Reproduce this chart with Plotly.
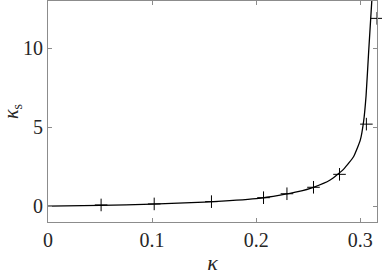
import plotly.graph_objects as go

# solid curve
curve_k = [0, 0.05, 0.1, 0.15, 0.2, 0.223, 0.24, 0.255, 0.271, 0.284, 0.2936,
           0.300, 0.3032, 0.3055, 0.308, 0.311]
curve_ks = [0, 0.05, 0.13, 0.26, 0.48, 0.7, 0.92, 1.2, 1.66, 2.35, 3.15,
            4.2, 5.4, 7.0, 9.8, 13.0]

# "+" markers
pts_k = [0.051, 0.102, 0.157, 0.207, 0.2295, 0.255, 0.280, 0.3058, 0.316]
pts_ks = [0.08, 0.145, 0.29, 0.54, 0.79, 1.2, 2.02, 5.2, 11.9]

x_ticks = [0, 0.1, 0.2, 0.3]
y_ticks = [0, 5, 10]

fig = go.Figure()
fig.add_trace(go.Scatter(x=curve_k, y=curve_ks, mode='lines',
                         line=dict(color='black', width=1.3, shape='spline', smoothing=0.5),
                         showlegend=False))
fig.add_trace(go.Scatter(x=pts_k, y=pts_ks, mode='markers',
                         marker=dict(symbol='cross-thin', size=9,
                                     line=dict(color='black', width=1)),
                         showlegend=False, cliponaxis=False))

font = dict(family='Liberation Serif', size=20, color='#262626')
axis = dict(showline=True, linecolor='#8c8c8c', linewidth=1, mirror='allticks',
            ticks='inside', ticklen=4, tickcolor='#8c8c8c', showgrid=False,
            zeroline=False, tickfont=font, automargin=False)

fig.update_layout(
    width=382, height=275,
    margin=dict(l=48, r=5, t=1, b=53),
    paper_bgcolor='white', plot_bgcolor='white',
    xaxis=dict(axis, range=[0, 0.316], tickvals=x_ticks,
               ticktext=['0', '0.1', '0.2', '0.3'],
               title=dict(text='<i>κ</i>', font=dict(font, size=22), standoff=6)),
    yaxis=dict(axis, range=[-1, 13], tickvals=y_ticks,
               title=dict(text='<i>κ</i><sub>s</sub>', font=font, standoff=12)),
)

# drop the browser's default page margin so the figure sits at the top-left corner
fig.write_html("out.html", config={'displayModeBar': False},
               post_script="document.body.style.margin='0px';")
